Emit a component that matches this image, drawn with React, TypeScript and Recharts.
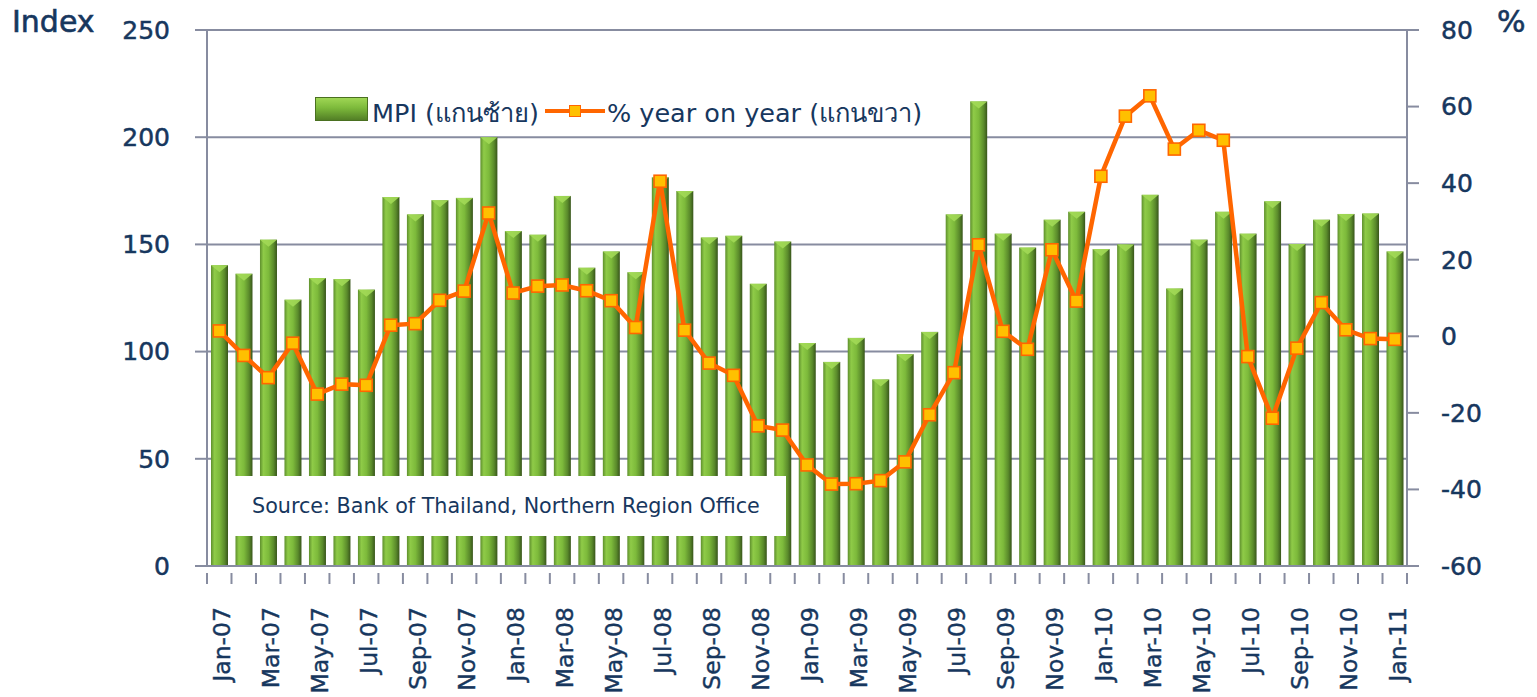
import { Bar, CartesianGrid, ComposedChart, Line, XAxis, YAxis } from "recharts";

const months = [
  "Jan-07", "Feb-07", "Mar-07", "Apr-07", "May-07", "Jun-07", "Jul-07", "Aug-07", "Sep-07", "Oct-07", "Nov-07", "Dec-07",
  "Jan-08", "Feb-08", "Mar-08", "Apr-08", "May-08", "Jun-08", "Jul-08", "Aug-08", "Sep-08", "Oct-08", "Nov-08", "Dec-08",
  "Jan-09", "Feb-09", "Mar-09", "Apr-09", "May-09", "Jun-09", "Jul-09", "Aug-09", "Sep-09", "Oct-09", "Nov-09", "Dec-09",
  "Jan-10", "Feb-10", "Mar-10", "Apr-10", "May-10", "Jun-10", "Jul-10", "Aug-10", "Sep-10", "Oct-10", "Nov-10", "Dec-10",
  "Jan-11"
];

// MPI index (left axis)
const mpi = [
  140.3, 136.3, 152.2, 124.2, 134.3, 133.8, 128.9, 172.1, 164.0, 170.6, 171.7, 200.0,
  156.2, 154.5, 172.6, 139.1, 146.7, 137.0, 181.3, 174.9, 153.2, 154.0, 131.6, 151.3,
  104.0, 95.2, 106.4, 87.0, 98.8, 109.2, 164.0, 216.7, 155.0, 148.5, 161.5, 165.2,
  147.8, 150.0, 173.1, 129.4, 152.2, 165.2, 155.0, 170.1, 150.2, 161.5, 164.2, 164.4,
  146.7
];

// % year on year (right axis)
const yoy = [
  1.4, -5.0, -10.8, -1.8, -15.1, -12.5, -12.8, 2.9, 3.3, 9.4, 11.8, 32.2,
  11.3, 13.1, 13.4, 11.9, 9.3, 2.3, 40.5, 1.6, -7.0, -10.2, -23.4, -24.5,
  -33.6, -38.6, -38.5, -37.7, -32.8, -20.5, -9.5, 23.9, 1.3, -3.4, 22.6, 9.2,
  41.8, 57.5, 62.8, 48.9, 53.8, 51.2, -5.3, -21.4, -3.1, 8.8, 1.7, -0.6,
  -0.8
];

const leftTicks = [0, 50, 100, 150, 200, 250];
const rightTicks = [-60, -40, -20, 0, 20, 40, 60, 80];

const data = months.map((month, i) => ({ month, mpi: mpi[i], yoy: yoy[i] }));

const NAVY = "#17375e";
const GRID = "#878ca0";
const FONT = "'DejaVu Sans', Verdana, sans-serif";
const PLOT_W = 1200;
const BAND = PLOT_W / months.length;

const tickFont = {
  fill: NAVY,
  fontSize: 25,
  fontFamily: FONT,
  stroke: NAVY,
  strokeWidth: 0.5
};

function BarShape(props: any) {
  const { x, y, width, height } = props;
  if (!height || height <= 0) return null;
  const bevel = 7;
  return (
    <g>
      <rect x={x} y={y} width={width} height={height} fill="url(#mpiGrad)" />
      <polygon
        points={`${x},${y} ${x + width},${y} ${x + width / 2},${y + bevel}`}
        fill="#a2d957"
        opacity={0.9}
      />
    </g>
  );
}

function SquareDot(props: any) {
  const { cx, cy } = props;
  if (cx == null || cy == null) return null;
  return <rect x={cx - 6} y={cy - 6} width={12} height={12} fill="#FFC000" stroke="#FF6600" strokeWidth={1.6} />;
}

function MonthTick(props: any) {
  const { x, y, payload, index } = props;
  const left = x - BAND / 2;
  const isLast = index === months.length - 1;
  return (
    <g>
      <line x1={left} y1={y - 1} x2={left} y2={y + 10} stroke={GRID} strokeWidth={2} />
      {isLast && <line x1={x + BAND / 2} y1={y - 1} x2={x + BAND / 2} y2={y + 10} stroke={GRID} strokeWidth={2} />}
      {index % 2 === 0 && (
        <text
          transform={`translate(${x + 3},${y + 33}) rotate(-90)`}
          textAnchor="end"
          dominantBaseline="central"
          fill={NAVY}
          stroke={NAVY}
          strokeWidth={0.4}
          fontSize={23.5}
          fontFamily={FONT}
        >
          {payload.value}
        </text>
      )}
    </g>
  );
}

export default function App() {
  return (
    <div style={{ position: "absolute", left: 0, top: 0, width: 1537, height: 697, background: "#fff", fontFamily: FONT }}>
      <ComposedChart
        width={1537}
        height={697}
        data={data}
        margin={{ top: 30, right: 30, left: 107, bottom: 31 }}
      >
        <defs>
          <linearGradient id="mpiGrad" x1="0" y1="0" x2="1" y2="0">
            <stop offset="0%" stopColor="#5e8f2d" />
            <stop offset="20%" stopColor="#8fcb48" />
            <stop offset="50%" stopColor="#7dba3b" />
            <stop offset="80%" stopColor="#5a8a2b" />
            <stop offset="100%" stopColor="#38551b" />
          </linearGradient>
        </defs>
        <CartesianGrid yAxisId="left" vertical={false} stroke={GRID} strokeWidth={2} />
        <XAxis
          dataKey="month"
          interval={0}
          height={100}
          tickLine={false}
          axisLine={{ stroke: GRID, strokeWidth: 2 }}
          tick={<MonthTick />}
        />
        <YAxis
          yAxisId="left"
          width={100}
          domain={[0, 250]}
          ticks={leftTicks}
          tickSize={12}
          tickMargin={25}
          axisLine={{ stroke: GRID, strokeWidth: 2 }}
          tickLine={{ stroke: GRID, strokeWidth: 2 }}
          tick={tickFont}
        />
        <YAxis
          yAxisId="right"
          orientation="right"
          width={100}
          domain={[-60, 80]}
          ticks={rightTicks}
          tickSize={12}
          tickMargin={22}
          axisLine={{ stroke: GRID, strokeWidth: 2 }}
          tickLine={{ stroke: GRID, strokeWidth: 2 }}
          tick={tickFont}
        />
        <Bar yAxisId="left" dataKey="mpi" barSize={17} shape={<BarShape />} isAnimationActive={false} />
        <Line
          yAxisId="right"
          dataKey="yoy"
          stroke="#FF6600"
          strokeWidth={4.5}
          dot={<SquareDot />}
          activeDot={false}
          isAnimationActive={false}
        />
      </ComposedChart>

      <div style={{ position: "absolute", left: 12, top: 4, fontSize: 30, color: NAVY, WebkitTextStroke: "0.6px " + NAVY }}>Index</div>
      <div style={{ position: "absolute", left: 1497, top: 4, fontSize: 30, color: NAVY, WebkitTextStroke: "0.6px " + NAVY }}>%</div>

      {/* legend */}
      <div style={{ position: "absolute", left: 315, top: 97, width: 53, height: 24, background: "linear-gradient(180deg,#a2d957 0%,#7dba3b 45%,#4f7a24 100%)", boxShadow: "inset 0 0 0 1px #4a7020" }} />
      <div style={{ position: "absolute", left: 372, top: 93, fontSize: 25.5, color: NAVY, whiteSpace: "nowrap" }}>MPI (แกนซ้าย)</div>
      <div style={{ position: "absolute", left: 545, top: 109, width: 60, height: 4, background: "#FF6600" }} />
      <div style={{ position: "absolute", left: 569, top: 105, width: 10, height: 10, background: "#FFC000", border: "1.6px solid #FF6600" }} />
      <div style={{ position: "absolute", left: 607, top: 93, fontSize: 25.5, color: NAVY, whiteSpace: "nowrap" }}>% year on year (แกนขวา)</div>

      {/* source box */}
      <div
        style={{
          position: "absolute",
          left: 233,
          top: 476,
          width: 553,
          height: 60,
          background: "#fff",
          display: "flex",
          alignItems: "center",
          paddingLeft: 19,
          boxSizing: "border-box",
          fontSize: 20.7,
          color: NAVY,
          whiteSpace: "nowrap"
        }}
      >
        Source: Bank of Thailand, Northern Region Office
      </div>
    </div>
  );
}
